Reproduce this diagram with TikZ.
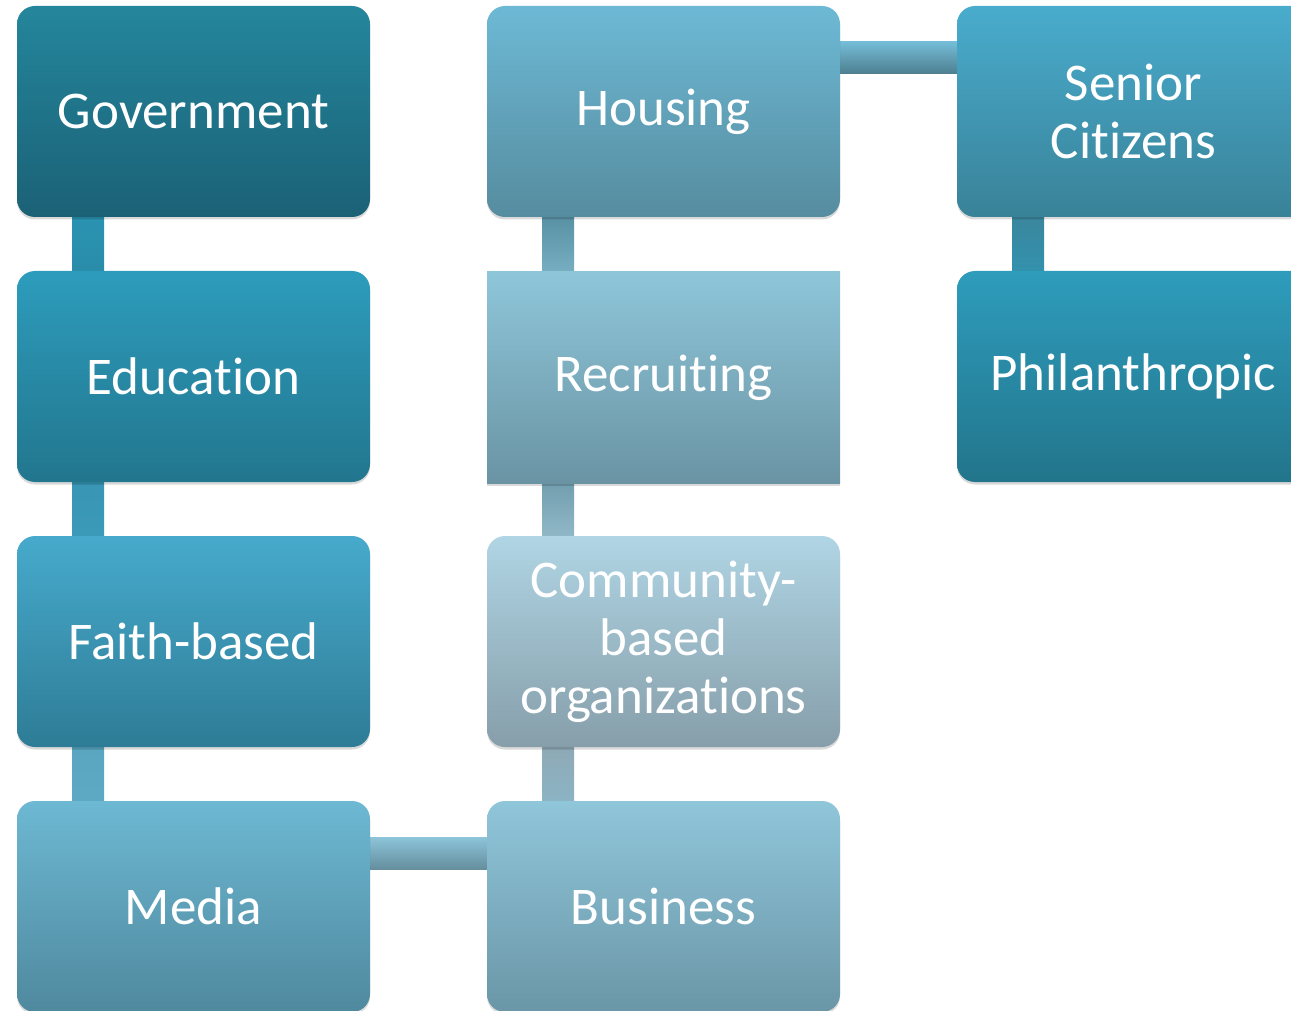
\documentclass[tikz,border=0pt]{standalone}
\usepackage{fontspec}
\setmainfont{Carlito}[Ligatures={NoCommon}]
\usetikzlibrary{backgrounds,shadows}
\definecolor{govT}{HTML}{24869C}\definecolor{govB}{HTML}{1B6176}
\definecolor{eduT}{HTML}{2D9CBC}\definecolor{eduB}{HTML}{22768E}
\definecolor{faiT}{HTML}{47AACC}\definecolor{faiB}{HTML}{2E7C96}
\definecolor{medT}{HTML}{6DB8D3}\definecolor{medB}{HTML}{4F899E}
\definecolor{houT}{HTML}{6DB9D5}\definecolor{houB}{HTML}{568C9F}
\definecolor{recT}{HTML}{8EC6D9}\definecolor{recB}{HTML}{6A94A4}
\definecolor{comT}{HTML}{B0D5E4}\definecolor{comB}{HTML}{869EAA}
\definecolor{busT}{HTML}{90C6DA}\definecolor{busB}{HTML}{6A96A7}
\definecolor{senT}{HTML}{49ACCD}\definecolor{senB}{HTML}{398298}
\definecolor{phiT}{HTML}{2E9CBC}\definecolor{phiB}{HTML}{22758B}
\tikzset{
  card/.style={minimum width=353pt, minimum height=211pt, inner sep=0pt,
    rounded corners=18pt, text=white, align=center,
    font=\fontsize{53}{58}\selectfont,
    drop shadow={shadow xshift=0pt, shadow yshift=-2.5pt, opacity=0.15, fill=black}},
  sharpcard/.style={card, sharp corners},
  bar/.style={shade, shading=axis}
}
\begin{document}
\begin{tikzpicture}[x=1pt,y=-1pt]
\useasboundingbox (0,0) rectangle (1291,1011);
% column 1
\node[card, top color=govT, bottom color=govB] (gov) at (193.5,111.5) {Government};
\node[card, top color=eduT, bottom color=eduB] (edu) at (193.5,376.5) {Education};
\node[card, top color=faiT, bottom color=faiB] (fai) at (193.5,641.5) {Faith-based};
\node[card, top color=medT, bottom color=medB] (med) at (193.5,906.5) {Media};
% column 2
\node[card, top color=houT, bottom color=houB] (hou) at (663.5,111.5) {Housing};
\node[sharpcard, top color=recT, bottom color=recB] (rec) at (663.5,377.5) {Recruiting};
\node[card, top color=comT, bottom color=comB] (com) at (663.5,641.5) {Community-\\based\\organizations};
\node[card, top color=busT, bottom color=busB] (bus) at (663.5,906.5) {Business};
% column 3
\node[card, top color=senT, bottom color=senB] (sen) at (1133.5,111.5) {Senior\\Citizens};
\node[card, top color=phiT, bottom color=phiB] (phi) at (1133.5,376.5) {Philanthropic};
\begin{pgfonlayer}{background}
\path[bar, top color=eduT!85!govB, bottom color=eduT!90!black] ([xshift=-121.5pt,yshift=1pt]gov.south) rectangle ([xshift=-89.5pt,yshift=-1pt]edu.north);
\path[bar, top color=faiT!60!eduB, bottom color=faiT!70!eduB] ([xshift=-121.5pt,yshift=1pt]edu.south) rectangle ([xshift=-89.5pt,yshift=-1pt]fai.north);
\path[bar, top color=medT!70!faiB, bottom color=medT!75!faiB] ([xshift=-121.5pt,yshift=1pt]fai.south) rectangle ([xshift=-89.5pt,yshift=-1pt]med.north);
\path[bar, top color=houB!90!houT, bottom color=recT!60!houB] ([xshift=-121.5pt,yshift=1pt]hou.south) rectangle ([xshift=-89.5pt,yshift=-1pt]rec.north);
\path[bar, top color=recB!80!recT, bottom color=comT!55!recB] ([xshift=-121.5pt,yshift=1pt]rec.south) rectangle ([xshift=-89.5pt,yshift=-1pt]com.north);
\path[bar, top color=comB!80!comT, bottom color=busT!55!comB] ([xshift=-121.5pt,yshift=1pt]com.south) rectangle ([xshift=-89.5pt,yshift=-1pt]bus.north);
\path[bar, top color=senB!90!senT, bottom color=phiT!60!senB] ([xshift=-121.5pt,yshift=1pt]sen.south) rectangle ([xshift=-89.5pt,yshift=-1pt]phi.north);
\path[bar, top color=houT!95!white, bottom color=houB!90!black] ([xshift=-1pt,yshift=69.5pt]hou.east) rectangle ([xshift=1pt,yshift=37.5pt]sen.west);
\path[bar, top color=busT!90!medT, bottom color=busB!95!black] ([xshift=-1pt,yshift=69.5pt]med.east) rectangle ([xshift=1pt,yshift=37.5pt]bus.west);
\end{pgfonlayer}
\end{tikzpicture}
\end{document}
